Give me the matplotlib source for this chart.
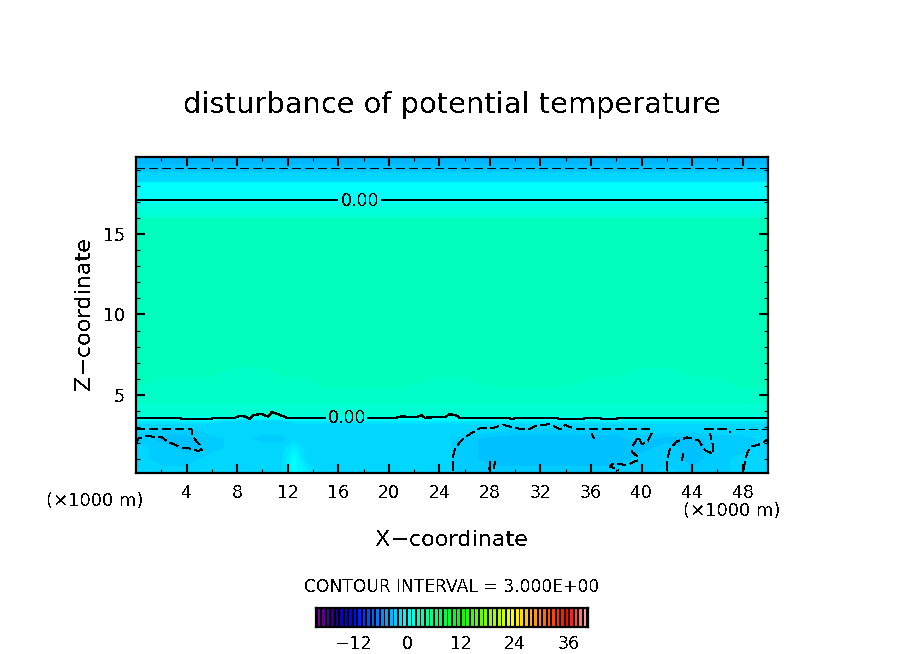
import numpy as np
import matplotlib
matplotlib.use('Agg')
import matplotlib.pyplot as plt
from matplotlib.colors import LinearSegmentedColormap, Normalize

# grid of the field (km)
x_grid = [0, 2, 4, 6, 8, 10, 11.5, 12.5, 13.5, 15, 18, 21, 24, 26, 28, 30, 32, 34, 36, 38, 40, 42, 44, 46, 48, 50]
z_grid = [0.155, 1.0, 1.7, 2.3, 2.8, 3.15, 3.35, 3.5, 3.62, 3.8, 5.2, 5.8, 6.5, 7.0, 15.9, 16.1, 16.8, 17.0, 18.1, 18.3, 18.7, 18.9, 19.2, 19.4, 19.78]

theta_rows = [
    [-2, -2, -2, -2, -2, -2, -2, 0, -1, -2, -2, -2, -2, -2.5, -2.5, -2.5, -2.5, -2.5, -2.5, -2.5, -2.5, -2, -2.5, -2.5, -2, -2],
    [-2, -2.5, -2.5, -2, -2, -2, -2, 0, -2, -2, -2, -2, -2, -2.5, -3, -3, -3, -3, -3, -3, -2.5, -2.5, -3, -2.5, -2, -2],
    [-2, -2.5, -3, -2.5, -2, -2, -2, -1, -2, -2, -2, -2, -2, -2.5, -3, -3, -3, -3, -3, -3, -3, -2.5, -3, -2.5, -2.5, -2],
    [-2.5, -3, -3, -2.5, -2, -2.5, -2.5, -2, -2, -2, -2, -2, -2, -2.5, -3, -3, -3, -3, -3, -3, -2.5, -3, -3, -2.5, -2.5, -2],
    [-2, -2.5, -2.5, -2, -2, -2, -2, -2, -2, -2, -2, -2, -2, -2, -2, -2.5, -2.5, -2.5, -2.5, -2.5, -2, -2, -2, -2, -2, -2],
    [-2, -2, -2, -2, -2, -2, -2, -2, -2, -2, -2, -2, -2, -2, -2, -2, -2, -2, -2, -2, -2, -2, -2, -2, -2, -2],
    [-1.5, -1.5, -1.5, -1.5, -2, -2, -2, -1.5, -1.5, -1.5, -1.5, -1.5, -1.5, -1.5, -1.5, -1.5, -1.5, -1.5, -1.5, -1.5, -1.5, -1.5, -1.5, -1.5, -1.5, -1.5],
    [0, 0, 0, 0, -1, -1, -1, 0, 0, 0, 0, 0, 0, 0, 0, 0, 0, 0, 0, 0, 0, 0, 0, 0, 0, 0],
    [1, 1, 1, 1, 1, 1, 1, 1, 1, 1, 1, 1, 1, 1, 1, 1, 1, 1, 1, 1, 1, 1, 1, 1, 1, 1],
    [2, 2, 2, 2, 2, 2, 2, 2, 2, 2, 2, 2, 2, 2, 2, 2, 2, 2, 2, 2, 2, 2, 2, 2, 2, 2],
    [2.5, 2.5, 2.5, 2.5, 2.5, 2.5, 2.5, 2.5, 2.5, 2.5, 2.5, 2.5, 2.5, 2.5, 2.5, 2.5, 2.5, 2.5, 2.5, 2.5, 2.5, 2.5, 2.5, 2.5, 2.5, 2.5],
    [3, 2.5, 2.5, 2.5, 2.5, 2.5, 2.5, 2.5, 2.5, 3, 3, 3, 2.5, 2.5, 3, 3, 3, 3, 2.5, 2.5, 2.5, 2.5, 2.5, 2.5, 3, 3],
    [3, 3, 3, 3, 2.5, 2.5, 3, 3, 3, 3, 3, 3, 3, 3, 3, 3, 3, 3, 3, 3, 2.5, 2.5, 3, 3, 3, 3],
    [3] * 26,
    [3] * 26,
    [2, 2, 2, 2, 2, 2, 2, 2, 2, 2, 2, 2, 2, 2, 2, 2, 2, 2, 2, 2, 2, 2, 2, 2, 2, 2],
    [1.5] * 26,
    [0] * 26,
    [0] * 26,
    [-2] * 26,
    [-2] * 26,
    [-3] * 26,
    [-3] * 26,
    [-3.5] * 26,
    [-3.5] * 26,
]

# zero contours, nan where the label sits
zero_top_x = [0, 15.9, np.nan, 19.5, 50]
zero_top_z = [17.1, 17.1, np.nan, 17.1, 17.1]
zero_low_x = [0, 3.48, 3.6, 6.0, 6.1, 7.83, 8.23, 8.7, 9.02, 9.28, 9.94, 10.47, 10.73, 11.39, 11.92, 14.95, np.nan,
              18.4, 20.6, 21.0, 22.2, 22.6, 22.85, 24.5, 24.8, 25.25, 25.6, 29.5, 29.6, 29.85, 30.0, 33.3, 33.4, 35.4, 35.5, 36.7, 36.8, 38.0, 38.1, 50]
zero_low_z = [3.59, 3.59, 3.51, 3.51, 3.59, 3.59, 3.70, 3.65, 3.51, 3.76, 3.82, 3.65, 3.94, 3.76, 3.59, 3.59, np.nan,
              3.59, 3.59, 3.67, 3.62, 3.75, 3.59, 3.65, 3.80, 3.76, 3.59, 3.59, 3.51, 3.51, 3.59, 3.59, 3.51, 3.51, 3.59, 3.59, 3.51, 3.51, 3.59, 3.59]

# dashed (-3) contours
dash_lines = [
    ([0, 50], [19.1, 19.1]),
    ([0, 4.4, 4.5, 4.8, 5.06, 5.2, 4.93, 4.14, 3.48, 2.82, 2.43, 2.03, 0.84, 0.18, 0.05],
     [2.87, 2.87, 2.41, 2.1, 1.91, 1.59, 1.53, 1.69, 1.75, 2.0, 2.14, 2.37, 2.45, 2.3, 2.04]),
    ([25.1, 25.05, 25.24, 25.76, 26.42, 27.2, 28.14, 29.06, 30.1, 31.04, 31.83, 32.75, 33.54, 33.94, 34.47, 35.12, 40.8],
     [0.34, 1.07, 1.69, 2.2, 2.58, 2.93, 2.93, 3.14, 2.93, 2.87, 3.14, 3.18, 2.87, 3.14, 2.97, 2.87, 2.87]),
    ([36.05, 36.23], [2.62, 2.31]),
    ([40.8, 40.4, 40.0, 39.74, 39.34, 39.21, 39.6, 39.74, 38.82, 37.76, 37.5, 38.16],
     [2.62, 2.04, 1.96, 2.41, 1.89, 1.48, 1.23, 0.96, 0.65, 0.75, 0.55, 0.34]),
    ([42, 42, 42.25, 42.77, 43.56, 44.49, 45.0, 45.67, 45.67, 45.4], [0.34, 0.86, 1.69, 2.1, 2.37, 2.2, 1.58, 1.33, 1.79, 2.62]),
    ([45.0, 46.86, 47], [2.87, 2.87, 2.66]),
    ([47.5, 49.9], [2.87, 2.87]),
    ([43.3, 43.2], [1.37, 0.96]),
    ([48.05, 48.3, 48.57, 49.2, 49.9], [0.34, 1.27, 1.79, 1.89, 2.2]),
    ([28, 27.95], [0.86, 0.34]),
    ([28.4, 28.3], [0.86, 0.45]),
]

x_ticks = [4, 8, 12, 16, 20, 24, 28, 32, 36, 40, 44, 48]
z_ticks = [5, 10, 15]
bar_ticks = [-12, 0, 12, 24, 36]

plt.rcParams['text.antialiased'] = False
plt.rcParams['font.family'] = 'DejaVu Sans'

W, H = 904, 654
cmap = LinearSegmentedColormap.from_list('rb', [
    (0.0, '#80009a'), (4 / 60, '#200080'), (8 / 60, '#0000ff'), (14 / 60, '#0080ff'), (20 / 60, '#00ffff'),
    (32 / 60, '#00ff00'), (44 / 60, '#ffff00'), (56 / 60, '#ff0000'), (1.0, '#ffa8a8')], N=240)
norm = Normalize(-20, 40)

fig = plt.figure(figsize=(W / 100, H / 100), dpi=100)
ax = fig.add_axes([136 / W, 1 - 473 / H, 632 / W, 316 / H])

levels = np.arange(-20.25, 40.5, 0.5)
cf = ax.contourf(x_grid, z_grid, np.array(theta_rows), levels=levels, cmap=cmap, norm=norm, antialiased=False)

ax.plot(zero_top_x, zero_top_z, color='k', lw=1.1, antialiased=False)
ax.plot(zero_low_x, zero_low_z, color='k', lw=0.9, antialiased=False)
for xs, zs in dash_lines:
    ax.plot(xs, zs, color='k', lw=0.45, linestyle=(0, (14, 7)), antialiased=False)
ax.text(17.7, 17.05, '0.00', ha='center', va='center', fontsize=12.5)
ax.text(16.7, 3.54, '0.00', ha='center', va='center', fontsize=12.5)

ax.set_xlim(0, 50)
ax.set_ylim(0.155, 19.78)
ax.set_xticks(x_ticks)
ax.set_yticks(z_ticks)
ax.set_xticks(np.arange(2, 50, 2), minor=True)
ax.set_yticks(np.arange(1, 20, 1), minor=True)
ax.tick_params(which='major', direction='in', top=True, right=True, length=6.5, width=1.5, labelsize=12.5)
ax.tick_params(which='minor', direction='in', top=True, right=True, length=3.2, width=0.8)
ax.tick_params(axis='x', which='major', pad=8)
ax.tick_params(axis='y', which='major', pad=8)
for s in ax.spines.values():
    s.set_linewidth(1.6)


def put(px, py, txt, **kw):
    fig.text(px / W, 1 - py / H, txt, ha='center', va='center', **kw)


put(452, 105, 'disturbance of potential temperature', fontsize=20.8)
put(95, 501, '(×1000 m)', fontsize=13)
put(732, 511, '(×1000 m)', fontsize=13)
put(452, 540, 'X\u2212coordinate', fontsize=16)
put(84, 314, 'Z\u2212coordinate', fontsize=16, rotation=90)
put(452, 587, 'CONTOUR INTERVAL = 3.000E+00', fontsize=12.3)

# colour bar
cax = fig.add_axes([316 / W, 1 - 627 / H, 272 / W, 19 / H])
cax.set_facecolor('k')
strips = np.arange(-20, 40)
cax.bar(strips + 0.5, np.ones(len(strips)), width=0.58, color=cmap(norm(strips + 0.5)), antialiased=False)
cax.set_xlim(-20.2, 40.2)
cax.set_ylim(0, 1)
cax.set_yticks([])
cax.set_xticks(bar_ticks)
cax.set_xticklabels(['\u221212', '0', '12', '24', '36'], fontsize=12.5)
cax.tick_params(axis='x', length=0, pad=6)
for s in cax.spines.values():
    s.set_linewidth(1.6)

fig.savefig('out.png', dpi=100)
